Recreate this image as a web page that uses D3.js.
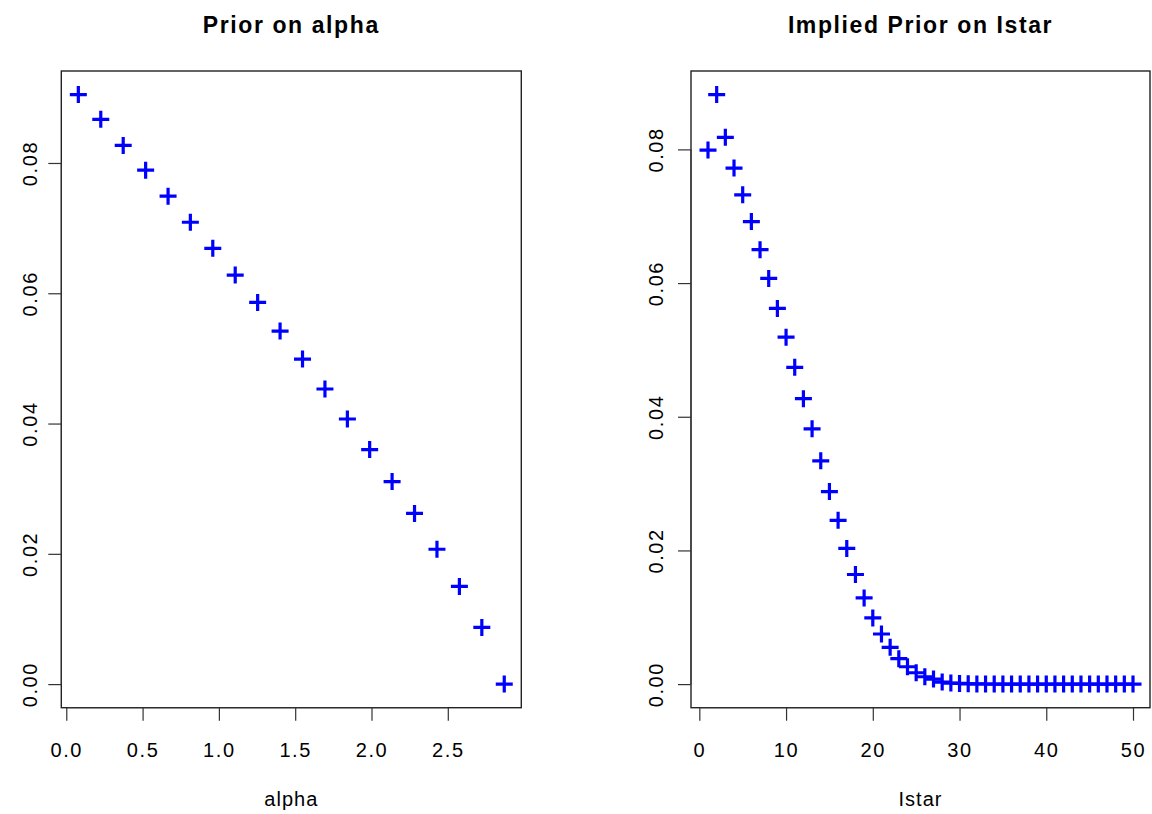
<!DOCTYPE html>
<html>
<head>
<meta charset="utf-8">
<script src="https://cdn.jsdelivr.net/npm/d3@7"></script>
<style>
  html, body { margin: 0; padding: 0; background: #fff; }
  svg { display: block; }
  text { font-family: "Liberation Sans", Arial, Helvetica, sans-serif; fill: #000; }
</style>
</head>
<body>
<svg id="chart" width="1152" height="814"></svg>
<script>
// ---- data ----
const alphaValues = [0.079, 0.226, 0.373, 0.520, 0.667, 0.813, 0.960, 1.107, 1.254, 1.401,
                     1.548, 1.695, 1.842, 1.988, 2.135, 2.282, 2.429, 2.576, 2.723, 2.870];
const alphaPrior  = [0.0905, 0.0867, 0.0827, 0.0789, 0.0749, 0.0709, 0.0669, 0.0628, 0.0586, 0.0542,
                     0.0499, 0.0453, 0.0407, 0.0360, 0.0311, 0.0262, 0.0207, 0.0150, 0.0087, 0.0000];

const istarValues = d3.range(1, 51);
const istarPrior  = [0.0799, 0.0882, 0.0818, 0.0772, 0.0732, 0.0692, 0.0650, 0.0607, 0.0562, 0.0519,
                     0.0474, 0.0427, 0.0382, 0.0334, 0.0288, 0.0245, 0.0203, 0.0164, 0.0129, 0.0099,
                     0.0075, 0.0055, 0.0038, 0.0026, 0.0017, 0.0011, 0.00075, 0.0003, 0.00015, 0.0001,
                     0.00005, 0.00003, 0.00002, 0.00001, 0, 0, 0, 0, 0, 0,
                     0, 0, 0, 0, 0, 0, 0, 0, 0, 0];

const alphaXTicks = [0.0, 0.5, 1.0, 1.5, 2.0, 2.5];
const alphaYTicks = [0.00, 0.02, 0.04, 0.06, 0.08];
const istarXTicks = [0, 10, 20, 30, 40, 50];
const istarYTicks = [0.00, 0.02, 0.04, 0.06, 0.08];

const panels = [
  { title: "Prior on alpha", xlab: "alpha", xs: alphaValues, ys: alphaPrior,
    xTicks: alphaXTicks, yTicks: alphaYTicks, xFmt: d3.format(".1f"),
    left: 61.3, right: 521.3, ylabOff: 24.6 },
  { title: "Implied Prior on Istar", xlab: "Istar", xs: istarValues, ys: istarPrior,
    xTicks: istarXTicks, yTicks: istarYTicks, xFmt: d3.format("d"),
    left: 691, right: 1150, ylabOff: 28 }
];
const plotTop = 71, plotBottom = 707.7;

const svg = d3.select("#chart");

// R-style 4% range extension
function rExtent(arr) {
  const [a, b] = d3.extent(arr);
  const d = (b - a) * 0.04;
  return [a - d, b + d];
}

panels.forEach(p => {
  const x = d3.scaleLinear().domain(rExtent(p.xs)).range([p.left, p.right]);
  const y = d3.scaleLinear().domain(rExtent(p.ys)).range([plotBottom, plotTop]);
  const g = svg.append("g");

  // plot box
  g.append("rect")
    .attr("x", p.left).attr("y", plotTop)
    .attr("width", p.right - p.left).attr("height", plotBottom - plotTop)
    .attr("fill", "none").attr("stroke", "#222").attr("stroke-width", 1.4);

  // x axis
  const xa = g.append("g").attr("transform", `translate(0,${plotBottom})`)
    .call(d3.axisBottom(x).tickValues(p.xTicks).tickFormat(p.xFmt).tickSize(13).tickSizeOuter(0));
  xa.select(".domain").attr("stroke", "#333").attr("stroke-width", 1)
    .attr("d", `M${x(p.xTicks[0])},0H${x(p.xTicks[p.xTicks.length - 1])}`);
  xa.selectAll(".tick line").attr("stroke", "#333").attr("stroke-width", 1.2);
  xa.selectAll(".tick text")
    .attr("y", 49).attr("dy", 0)
    .style("font-size", "20px").style("letter-spacing", "1.6px")
    .style("font-family", '"Liberation Sans", Arial, sans-serif').attr("fill", "#000");

  // y axis
  const ya = g.append("g").attr("transform", `translate(${p.left},0)`)
    .call(d3.axisLeft(y).tickValues(p.yTicks).tickFormat(d3.format(".2f")).tickSize(13).tickSizeOuter(0));
  ya.select(".domain").attr("stroke", "#333").attr("stroke-width", 1)
    .attr("d", `M0,${y(p.yTicks[0])}V${y(p.yTicks[p.yTicks.length - 1])}`);
  ya.selectAll(".tick line").attr("stroke", "#333").attr("stroke-width", 1.2);
  ya.selectAll(".tick text")
    .attr("x", null).attr("dy", 0)
    .attr("text-anchor", "middle")
    .attr("transform", `translate(${-p.ylabOff},0) rotate(-90)`)
    .style("font-size", "20px").style("letter-spacing", "1.6px")
    .style("font-family", '"Liberation Sans", Arial, sans-serif').attr("fill", "#000");

  // points (plus markers)
  g.append("g").selectAll("path")
    .data(p.xs.map((v, i) => [v, p.ys[i]]))
    .join("path")
    .attr("transform", d => `translate(${x(d[0])},${y(d[1])})`)
    .attr("d", "M-8.5,0H8.5M0,-8.5V8.5")
    .attr("stroke", "#0000ff").attr("stroke-width", 3.2).attr("fill", "none");

  const cx = (p.left + p.right) / 2;
  // title
  g.append("text").attr("x", cx).attr("y", 33)
    .attr("text-anchor", "middle")
    .style("font-size", "23px").style("font-weight", "bold").style("letter-spacing", "1.6px")
    .text(p.title);
  // x label
  g.append("text").attr("x", cx).attr("y", 806)
    .attr("text-anchor", "middle")
    .style("font-size", "20px").style("letter-spacing", "1px")
    .text(p.xlab);
});
</script>
</body>
</html>
